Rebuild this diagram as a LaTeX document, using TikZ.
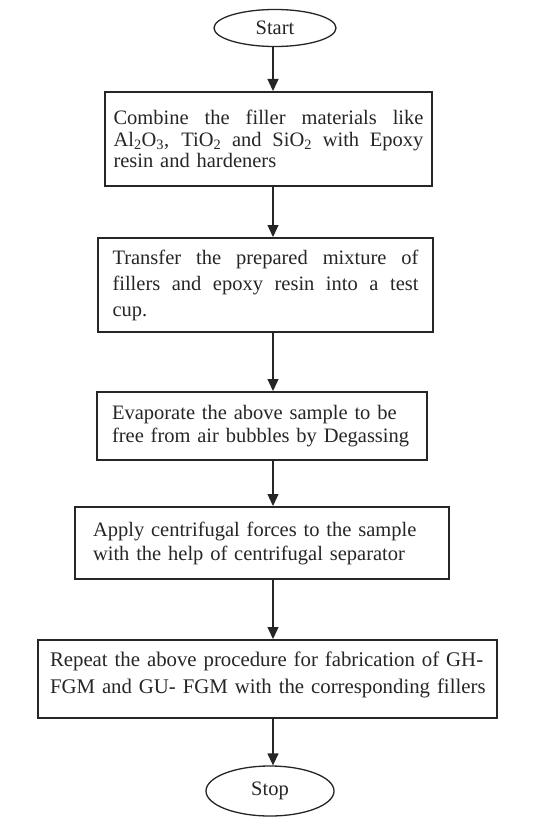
\documentclass[tikz,border=0pt]{standalone}
\usepackage{fontspec}
\setmainfont{Liberation Serif}
\usetikzlibrary{arrows.meta,shapes.geometric}
\newcommand\jline[2]{\leavevmode\hbox to #1{\spaceskip=0.25em plus 1fil\relax #2}}
\begin{document}
\begin{tikzpicture}[x=1pt,y=-1pt,
  box/.style={draw=black!85, line width=2pt, rectangle, align=left, text=black!85, inner ysep=0pt},
  term/.style={draw=black!85, line width=1.3pt, ellipse, inner sep=0pt, text=black!85, font=\fontsize{20.5}{24}\selectfont},
  arr/.style={line width=1.3pt, draw=black!85, -{Triangle[length=12pt,width=11pt]}}]
\useasboundingbox[fill=white] (0,0) rectangle (540,829);
\coordinate (axis) at (273,0);
\node[term, minimum width=122pt, minimum height=37pt] (start) at (275,28) {Start};
\node[box, minimum width=327pt, minimum height=94pt, text width=310pt, inner xsep=8.5pt, font=\fontsize{20.5}{21.7}\selectfont] (b1) at (268.5,139)
  {\jline{310pt}{Combine the filler materials like}\\
   \jline{310pt}{Al\textsubscript{2}O\textsubscript{3}, TiO\textsubscript{2} and SiO\textsubscript{2} with Epoxy}\\
   \mbox{resin and hardeners}};
\node[box, minimum width=335pt, minimum height=94pt, text width=306pt, inner xsep=14.5pt, font=\fontsize{20.5}{26}\selectfont] (b2) at (265.5,285)
  {\jline{306pt}{Transfer the prepared mixture of}\\
   \jline{306pt}{fillers and epoxy resin into a test}\\
   \mbox{cup.}};
\node[box, minimum width=330pt, minimum height=68pt, text width=300pt, inner xsep=15pt, font=\fontsize{20.5}{23.5}\selectfont] (b3) at (262,426)
  {\mbox{Evaporate the above sample to be}\\ \mbox{free from air bubbles by Degassing}};
\node[box, minimum width=374pt, minimum height=72pt, text width=338pt, inner xsep=18pt, font=\fontsize{20.5}{24}\selectfont] (b4) at (262,543)
  {\mbox{Apply centrifugal forces to the sample}\\ \mbox{with the help of centrifugal separator}};
\node[box, minimum width=459pt, minimum height=78pt, text width=435pt, inner xsep=12pt, font=\fontsize{20.8}{26.5}\selectfont] (b5) at (267.5,679)
  {\mbox{Repeat the above procedure for fabrication of GH-}\\ \mbox{FGM and GU- FGM with the corresponding fillers}\\[-14pt]\mbox{}};
\node[term, minimum width=128pt, minimum height=50pt] (stop) at (270,791) {Stop};
\draw[arr] (start.south -| axis) -- (b1.north -| axis);
\draw[arr] (b1.south -| axis) -- (b2.north -| axis);
\draw[arr] (b2.south -| axis) -- (b3.north -| axis);
\draw[arr] (b3.south -| axis) -- (b4.north -| axis);
\draw[arr] (b4.south -| axis) -- (b5.north -| axis);
\draw[arr] (b5.south -| axis) -- (stop.north -| axis);
\end{tikzpicture}
\end{document}
